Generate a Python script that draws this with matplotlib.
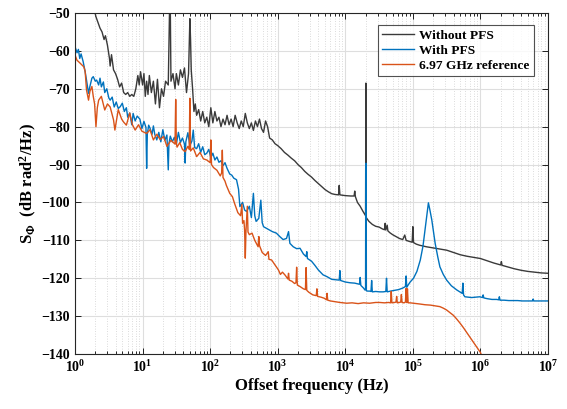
import numpy as np
import matplotlib
matplotlib.use("Agg")
import matplotlib.pyplot as plt
from matplotlib.ticker import LogLocator, FixedLocator, NullFormatter

plt.rcParams['font.family'] = ['Liberation Serif', 'DejaVu Serif']
plt.rcParams['font.weight'] = 'bold'
plt.rcParams['mathtext.fontset'] = 'custom'
plt.rcParams['mathtext.rm'] = 'Liberation Serif:bold'
plt.rcParams['mathtext.it'] = 'Liberation Serif:bold'
plt.rcParams['mathtext.bf'] = 'Liberation Serif:bold'

# ---- data: log10(offset frequency in Hz) and phase noise in dB rad^2/Hz ----
without_logf = [0.25, 0.29, 0.31, 0.34, 0.37, 0.40, 0.43, 0.45, 0.48, 0.51, 0.52, 0.54, 0.57, 0.60,
                0.63, 0.66, 0.69, 0.72, 0.75, 0.78, 0.81, 0.84, 0.87, 0.90, 0.93, 0.95, 0.97, 1.00,
                1.02, 1.04, 1.06, 1.08, 1.10, 1.13, 1.16, 1.19, 1.22, 1.25, 1.28, 1.31, 1.34, 1.38,
                1.40, 1.41, 1.42, 1.45, 1.48, 1.50, 1.53, 1.56, 1.59, 1.62, 1.65, 1.68, 1.70, 1.71,
                1.72, 1.74, 1.76, 1.78, 1.80, 1.83, 1.86, 1.89, 1.92, 1.95, 1.98, 2.01, 2.04, 2.07,
                2.10, 2.13, 2.16, 2.19, 2.22, 2.25, 2.28, 2.31, 2.34, 2.37, 2.40, 2.43, 2.46, 2.49,
                2.52, 2.55, 2.58, 2.61, 2.64, 2.67, 2.70, 2.73, 2.76, 2.79, 2.82, 2.85, 2.88, 2.92,
                2.96, 3.00, 3.05, 3.10, 3.15, 3.20, 3.25, 3.30, 3.35, 3.40, 3.45, 3.50, 3.55, 3.60,
                3.65, 3.70, 3.75, 3.80, 3.85, 3.90, 3.91, 3.92, 4.00, 4.08, 4.13, 4.14, 4.15, 4.18,
                4.22, 4.26, 4.29, 4.30, 4.305, 4.31, 4.35, 4.40, 4.45, 4.50, 4.55, 4.58, 4.59, 4.60,
                4.62, 4.63, 4.66, 4.70, 4.75, 4.80, 4.85, 4.88, 4.90, 4.95, 4.99, 5.00, 5.01, 5.05,
                5.10, 5.20, 5.30, 5.40, 5.50, 5.60, 5.70, 5.80, 5.90, 6.00, 6.10, 6.20, 6.30, 6.31,
                6.32, 6.40, 6.50, 6.60, 6.70, 6.80, 6.90, 7.00]
without_db = [-48, -49.5, -51, -52.5, -54, -55, -57, -56, -58.5, -62, -64, -61, -65, -66,
              -67.5, -69.5, -68.5, -71, -71.5, -71, -72, -71.5, -72, -70, -66.5, -69, -65.5, -69,
              -66, -72, -68, -71.5, -66.5, -71, -68, -74, -67.5, -75, -70, -72, -68, -69,
              -48, -48, -68, -66, -70, -66, -69, -65, -67, -64.5, -71, -66, -51.5, -57,
              -65, -70, -76, -74, -77, -75.5, -78.5, -76, -79, -77.5, -80, -75, -79, -76,
              -78.5, -77.5, -80, -78, -79.5, -77, -79.5, -78, -80, -77, -79, -80.5, -78.5, -80,
              -76.5, -79, -80.5, -79, -81, -78.5, -80, -78, -80.5, -81.5, -78.5, -80, -83, -83.5,
              -84.5, -85, -85.8, -86.8, -87.5, -88.3, -89, -90, -90.8, -91.8, -92.6, -93.3, -94.2, -95,
              -95.8, -96.6, -97.2, -97.7, -97.9, -98, -95.5, -98, -98.2, -98.3, -98.3, -97, -98.5, -100,
              -101, -102.3, -103.2, -103.5, -68.5, -104, -105, -105.8, -106.3, -106.5, -107, -107.2, -105.5, -107.3,
              -106, -107.5, -108, -108.5, -109, -109.5, -109.8, -108.6, -110, -110.3, -110.5, -106.4, -110.6, -111,
              -111.3, -111.7, -112, -112.3, -112.6, -113.2, -113.8, -114.2, -114.5, -114.8, -115.4, -116, -116.5, -115.6,
              -116.6, -117, -117.5, -117.9, -118.2, -118.4, -118.6, -118.7]

with_logf = [0.00, 0.03, 0.05, 0.07, 0.09, 0.12, 0.15, 0.17, 0.20, 0.22, 0.25, 0.27, 0.30, 0.32,
             0.35, 0.37, 0.39, 0.42, 0.44, 0.47, 0.50, 0.52, 0.55, 0.58, 0.61, 0.64, 0.67, 0.70,
             0.73, 0.76, 0.78, 0.81, 0.84, 0.86, 0.89, 0.92, 0.96, 0.99, 1.02, 1.05, 1.06, 1.07,
             1.09, 1.11, 1.14, 1.16, 1.18, 1.21, 1.24, 1.27, 1.30, 1.33, 1.36, 1.38, 1.39, 1.41,
             1.44, 1.47, 1.50, 1.53, 1.56, 1.59, 1.62, 1.63, 1.64, 1.67, 1.70, 1.73, 1.75, 1.77,
             1.80, 1.83, 1.86, 1.89, 1.92, 1.95, 1.98, 2.01, 2.04, 2.07, 2.10, 2.13, 2.16, 2.19,
             2.22, 2.25, 2.29, 2.32, 2.35, 2.39, 2.42, 2.44, 2.48, 2.51, 2.54, 2.58, 2.61, 2.64,
             2.66, 2.68, 2.72, 2.75, 2.77, 2.79, 2.85, 2.92, 2.98, 3.03, 3.08, 3.13, 3.16, 3.18,
             3.23, 3.28, 3.33, 3.38, 3.42, 3.43, 3.44, 3.50, 3.55, 3.60, 3.67, 3.73, 3.80, 3.86,
             3.91, 3.92, 3.93, 4.00, 4.07, 4.14, 4.21, 4.22, 4.23, 4.27, 4.29, 4.30, 4.303, 4.309,
             4.312, 4.33, 4.36, 4.38, 4.39, 4.40, 4.45, 4.51, 4.56, 4.60, 4.61, 4.62, 4.67, 4.73,
             4.79, 4.85, 4.89, 4.90, 4.91, 4.93, 4.96, 5.01, 5.06, 5.11, 5.15, 5.18, 5.21, 5.23,
             5.25, 5.28, 5.33, 5.37, 5.40, 5.45, 5.50, 5.57, 5.65, 5.71, 5.73, 5.74, 5.75, 5.77,
             5.82, 5.87, 5.93, 5.99, 6.03, 6.04, 6.05, 6.10, 6.17, 6.24, 6.27, 6.28, 6.29, 6.35,
             6.42, 6.48, 6.55, 6.62, 6.70, 6.77, 6.78, 6.79, 6.85, 6.92, 7.00]
with_db = [-58.9, -60.5, -59.6, -62, -60.8, -62.8, -65.5, -67.7, -71.2, -69.4, -67.2, -66.8, -68, -67.7,
           -69, -67.2, -69.5, -68.2, -71, -70, -72.4, -73, -72.2, -74.8, -73.5, -75.2, -74.7, -73.8,
           -76, -75, -77.5, -76.4, -79.5, -76.5, -78.5, -77.2, -78, -80.5, -78.6, -80.2, -91, -82,
           -79.6, -80.4, -82, -79.8, -82, -83.5, -81.5, -84, -80.8, -83.6, -82.2, -91.4, -84.5, -82.5,
           -84, -82.8, -84.6, -81.5, -84.2, -83, -84.6, -89.6, -84, -81.6, -85, -83.8, -80.9, -85.5,
           -85.8, -84.5, -86.8, -85.3, -87.4, -87, -86, -88.2, -87, -88.8, -88, -89.4, -89, -90.3,
           -89.5, -91, -92.5, -92.8, -93.6, -94, -96.5, -101.1, -100, -102, -102.4, -101, -104, -97.6,
           -103.5, -105, -104.2, -99.4, -105.3, -106.4, -107, -107.7, -108.1, -109, -109.8, -109.5, -107.7, -110.8,
           -111.7, -112.2, -112.1, -113.6, -114.3, -113, -114.8, -115.5, -116.6, -117.8, -119.1, -119.6, -120.3, -120.4,
           -120.5, -118, -120.6, -121, -121.2, -121.3, -121.6, -119.8, -121.9, -122.6, -123.1, -123, -89.7, -89.7,
           -123.3, -123.4, -123.4, -123.5, -120.6, -123.6, -123.5, -123.6, -123.6, -123.5, -120, -123.6, -123.4, -123.2,
           -123, -122.6, -122.2, -119.4, -122.4, -121.8, -121, -120, -118.2, -115.2, -111.5, -107.3, -103, -100.1,
           -101.8, -104.6, -110.8, -114.5, -117, -119, -120.5, -122, -123.1, -123.8, -124, -121.3, -124.4, -124.9,
           -125, -125.1, -125, -124.9, -125.1, -124.4, -125.2, -125.4, -125.6, -125.6, -125.7, -124.9, -125.8, -125.8,
           -125.9, -125.9, -125.9, -126, -126, -126, -125.5, -126, -126, -126, -126]

ref_logf = [0.00, 0.03, 0.05, 0.10, 0.13, 0.15, 0.17, 0.20, 0.22, 0.25, 0.27, 0.29, 0.31, 0.33,
            0.35, 0.39, 0.44, 0.48, 0.52, 0.57, 0.59, 0.64, 0.69, 0.72, 0.76, 0.81, 0.85, 0.89,
            0.94, 0.99, 1.06, 1.11, 1.16, 1.21, 1.26, 1.31, 1.36, 1.42, 1.48, 1.49, 1.50, 1.51,
            1.55, 1.59, 1.63, 1.67, 1.69, 1.70, 1.71, 1.75, 1.80, 1.85, 1.90, 1.95, 2.00, 2.01,
            2.02, 2.05, 2.10, 2.15, 2.17, 2.18, 2.19, 2.22, 2.24, 2.29, 2.33, 2.36, 2.41, 2.45,
            2.47, 2.48, 2.50, 2.51, 2.52, 2.53, 2.55, 2.56, 2.58, 2.62, 2.66, 2.71, 2.72, 2.73,
            2.77, 2.82, 2.86, 2.87, 2.91, 2.96, 3.01, 3.04, 3.07, 3.11, 3.15, 3.16, 3.17, 3.21,
            3.25, 3.27, 3.28, 3.29, 3.33, 3.38, 3.41, 3.42, 3.43, 3.46, 3.52, 3.57, 3.58, 3.59,
            3.64, 3.69, 3.72, 3.73, 3.74, 3.78, 3.85, 3.92, 4.02, 4.10, 4.19, 4.27, 4.36, 4.45,
            4.51, 4.58, 4.64, 4.67, 4.68, 4.69, 4.73, 4.75, 4.76, 4.77, 4.80, 4.82, 4.83, 4.84,
            4.87, 4.89, 4.90, 4.91, 4.92, 4.93, 4.96, 5.01, 5.10, 5.18, 5.26, 5.33, 5.40, 5.45,
            5.50, 5.55, 5.60, 5.65, 5.70, 5.75, 5.80, 5.85, 5.90, 5.95, 6.00, 6.02]
ref_db = [-61.1, -62.5, -62.8, -63.7, -64.2, -65.4, -70.3, -73, -70.7, -69.4, -72, -74, -80, -75,
          -73, -72, -75.6, -74, -74.8, -78.2, -80.9, -75.5, -78, -78.8, -79.6, -76.4, -79.5, -80.9,
          -79.5, -81.2, -81.8, -80.8, -83.5, -82, -83.4, -82.6, -85.2, -83.6, -84.6, -72.8, -84.4, -85.4,
          -84.2, -86, -86.6, -85.2, -86, -72.5, -86.4, -85.6, -87.9, -86.8, -88.5, -88.8, -89.5, -83.5,
          -90, -90.8, -91.5, -93, -92.2, -86.2, -93.4, -94.4, -95.5, -97.6, -98.5, -100.2, -102.7, -103.5,
          -100.5, -105.5, -104.8, -107.3, -114.7, -107.6, -101, -107.8, -108.5, -108.1, -110, -111.7, -109, -111.4,
          -113.2, -114, -113, -115, -115.2, -116.5, -117.8, -119, -118.4, -119.2, -120.2, -118.7, -120.5, -120.8,
          -121.4, -121.2, -117.1, -121.8, -122.2, -122.8, -123, -117.2, -123.2, -123.7, -124.4, -124.6, -122.8, -124.8,
          -125, -125.3, -125.7, -124, -125.8, -126, -126.2, -126.4, -126.6, -126.5, -126.7, -126.5, -126.6, -126.4,
          -126.4, -126.5, -126.4, -126.5, -123.5, -126.5, -126.4, -126.3, -124.8, -126.5, -126.4, -126.3, -124.3, -126.4,
          -126.5, -126.3, -122.7, -126.4, -122.8, -126.5, -126.5, -126.6, -126.8, -127, -127.1, -127.3, -127.5, -127.9,
          -128.4, -129.1, -129.8, -130.8, -131.9, -133.1, -134.4, -135.7, -137, -138.3, -139.6, -140.5]

series_labels = ['Without PFS', 'With PFS', '6.97 GHz reference']
series_colors = ['#3a3a3a', '#0072BD', '#D95319']

y_ticks = list(range(-140, -49, 10))
x_decades = list(range(0, 8))

fig = plt.figure(figsize=(5.67, 4.09), dpi=100)
ax = fig.add_axes([0.1323, 0.1345, 0.8342, 0.8337])

for lf, db, lab, col in zip([without_logf, with_logf, ref_logf],
                            [without_db, with_db, ref_db],
                            series_labels, series_colors):
    ax.plot(np.power(10.0, lf), db, color=col, lw=1.0, label=lab)

ax.set_xscale('log')
ax.set_xlim(1, 1e7)
ax.set_ylim(-140, -50)
ax.set_yticks(y_ticks)
ax.xaxis.set_major_locator(FixedLocator([10.0 ** d for d in x_decades]))
ax.xaxis.set_minor_locator(LogLocator(base=10, subs=np.arange(2, 10), numticks=50))
ax.xaxis.set_minor_formatter(NullFormatter())

ax.grid(True, which='major', color='#dedede', lw=0.8, ls='-')
ax.grid(True, which='minor', axis='x', color='#cfcfcf', lw=0.6, ls=(0, (1, 2)))
ax.set_axisbelow(True)

ax.tick_params(which='both', direction='in', top=True, right=True, labelsize=10, width=0.6)
ax.tick_params(which='major', length=4)
ax.tick_params(which='minor', length=2)
for sp in ax.spines.values():
    sp.set_linewidth(0.8)
    sp.set_color('#262626')

ax.set_xlabel('Offset frequency (Hz)', fontsize=12, fontweight='bold', labelpad=2)
ax.set_ylabel(r'S$_{\Phi}$  (dB rad$^{2}$/Hz)', fontsize=12, fontweight='bold', labelpad=2)

leg = ax.legend(loc='upper right', fontsize=9.6, frameon=True, fancybox=False,
                edgecolor='#262626', handlelength=2.4, borderpad=0.3, labelspacing=0.2,
                handletextpad=0.4, bbox_to_anchor=(0.984, 0.983))
leg.get_frame().set_linewidth(0.8)
for t in leg.get_texts():
    t.set_fontweight('bold')

fig.savefig('out.png', dpi=100)
